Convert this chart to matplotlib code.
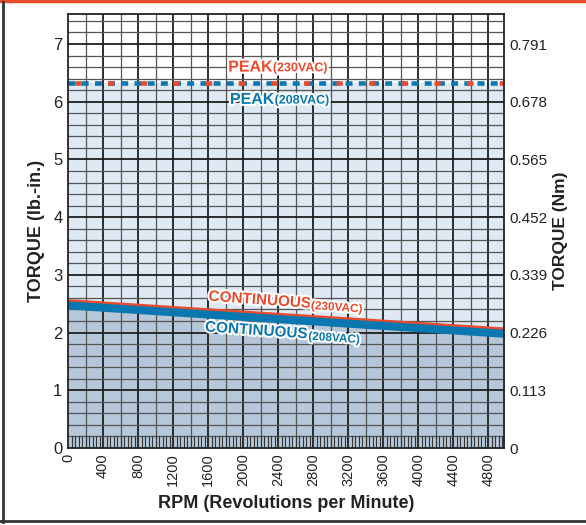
import numpy as np
import matplotlib.pyplot as plt
import matplotlib.patheffects as pe
from matplotlib.lines import Line2D

plt.rcParams['font.family'] = ['Liberation Sans', 'DejaVu Sans']
plt.rcParams['lines.scale_dashes'] = False

# data
rpm = [0, 4980]
peak_230 = [6.33, 6.33]
peak_208 = [6.33, 6.33]
cont_230 = [2.50, 2.01]
cont_208 = [2.47, 1.98]

x_ticks = list(range(0, 5000, 400))
y_ticks = [0, 1, 2, 3, 4, 5, 6, 7]
nm_labels = ['0', '0.113', '0.226', '0.339', '0.452', '0.565', '0.678', '0.791']

red = '#ea4b2e'
blue = '#0a78b0'
ink = '#222222'

fig = plt.figure(figsize=(5.86, 5.25), dpi=100)
ax = fig.add_axes([68 / 586, 77 / 525, 436 / 586, 434 / 525])
ax.set_xlim(0, 4980)
ax.set_ylim(0, 7.52)

# shaded areas
ax.fill_between(rpm, 0, peak_208, color='#dfe9f3', zorder=0)
ax.fill_between(rpm, 0, cont_208, color='#b5c7d9', zorder=0)

# grid
for x in np.arange(200, 4980, 200):
    major = x % 400 == 0
    ax.axvline(x, color='#1e1e1e' if major else '#555555', lw=1.3 if major else 0.9, zorder=1)
for y in np.arange(0.2, 7.52, 0.2):
    major = abs(y - round(y)) < 1e-6
    ax.axhline(y, color='#1e1e1e' if major else '#555555', lw=1.3 if major else 0.9, zorder=1)
# comb along the bottom row
for x in np.arange(40, 4980, 40):
    ax.plot([x, x], [0, 0.2], color='#333333', lw=0.8, zorder=1)

# peak lines
ax.plot(rpm, peak_208, color=blue, lw=3.3, dashes=(5.0, 4.5), dash_capstyle='butt', zorder=3)
ax.plot(rpm, peak_230, color=red, lw=3.3, dashes=(0, 5.0, 4.5, 14.0), dash_capstyle='butt', zorder=4)

# continuous lines
ax.plot(rpm, cont_230, color=red, lw=6.6, zorder=3, solid_capstyle='butt')
ax.plot(rpm, cont_208, color=blue, lw=5.8, zorder=4, solid_capstyle='butt')

stroke = [pe.withStroke(linewidth=3, foreground='white')]
ax.text(1830, 6.6, 'PEAK', color=red, fontsize=11.5, fontweight='bold', va='center', path_effects=stroke, zorder=6)
ax.text(2340, 6.58, '(230VAC)', color=red, fontsize=9, fontweight='bold', va='center', path_effects=stroke, zorder=6)
ax.text(1850, 6.04, 'PEAK', color=blue, fontsize=11.5, fontweight='bold', va='center', path_effects=stroke, zorder=6)
ax.text(2360, 6.02, '(208VAC)', color=blue, fontsize=9, fontweight='bold', va='center', path_effects=stroke, zorder=6)

ax.text(1600, 2.56, 'CONTINUOUS', color=red, fontsize=11, fontweight='bold', va='center', rotation=-4,
        path_effects=stroke, zorder=6)
ax.text(2770, 2.43, '(230VAC)', color=red, fontsize=8.5, fontweight='bold', va='center', rotation=-4,
        path_effects=stroke, zorder=6)
ax.text(1560, 2.03, 'CONTINUOUS', color=blue, fontsize=11, fontweight='bold', va='center', rotation=-4,
        path_effects=stroke, zorder=6)
ax.text(2740, 1.9, '(208VAC)', color=blue, fontsize=8.5, fontweight='bold', va='center', rotation=-4,
        path_effects=stroke, zorder=6)

for s in ax.spines.values():
    s.set_color(ink)
    s.set_linewidth(1.3)
    s.set_zorder(5)

ax.set_xticks(x_ticks)
ax.set_xticklabels([str(v) for v in x_ticks], rotation=90)
ax.set_yticks(y_ticks)
ax.tick_params(axis='y', length=0, pad=4, labelsize=12, labelcolor=ink)
ax.tick_params(axis='x', length=0, pad=4, labelsize=10.5, labelcolor=ink)
ax.set_xlabel('RPM (Revolutions per Minute)', fontsize=13, fontweight='bold', color=ink, labelpad=6)
ax.set_ylabel('TORQUE (lb.-in.)', fontsize=13, fontweight='bold', color=ink, labelpad=6)

ax2 = ax.twinx()
ax2.set_ylim(ax.get_ylim())
ax2.set_yticks(y_ticks)
ax2.set_yticklabels(nm_labels)
ax2.tick_params(axis='y', length=0, pad=4, labelsize=11, labelcolor=ink)
ax2.set_ylabel('TORQUE (Nm)', fontsize=12.5, fontweight='bold', color=ink, labelpad=4)
for s in ax2.spines.values():
    s.set_visible(False)

# outer frame
fig.add_artist(Line2D([0, 1], [0.998, 0.998], transform=fig.transFigure, color=red, lw=2.5))
fig.add_artist(Line2D([3 / 586, 3 / 586], [0.005, 0.997], transform=fig.transFigure, color='#333333', lw=2))
fig.add_artist(Line2D([0, 1], [4 / 525, 4 / 525], transform=fig.transFigure, color='#333333', lw=2))

fig.savefig('out.png', dpi=100)
